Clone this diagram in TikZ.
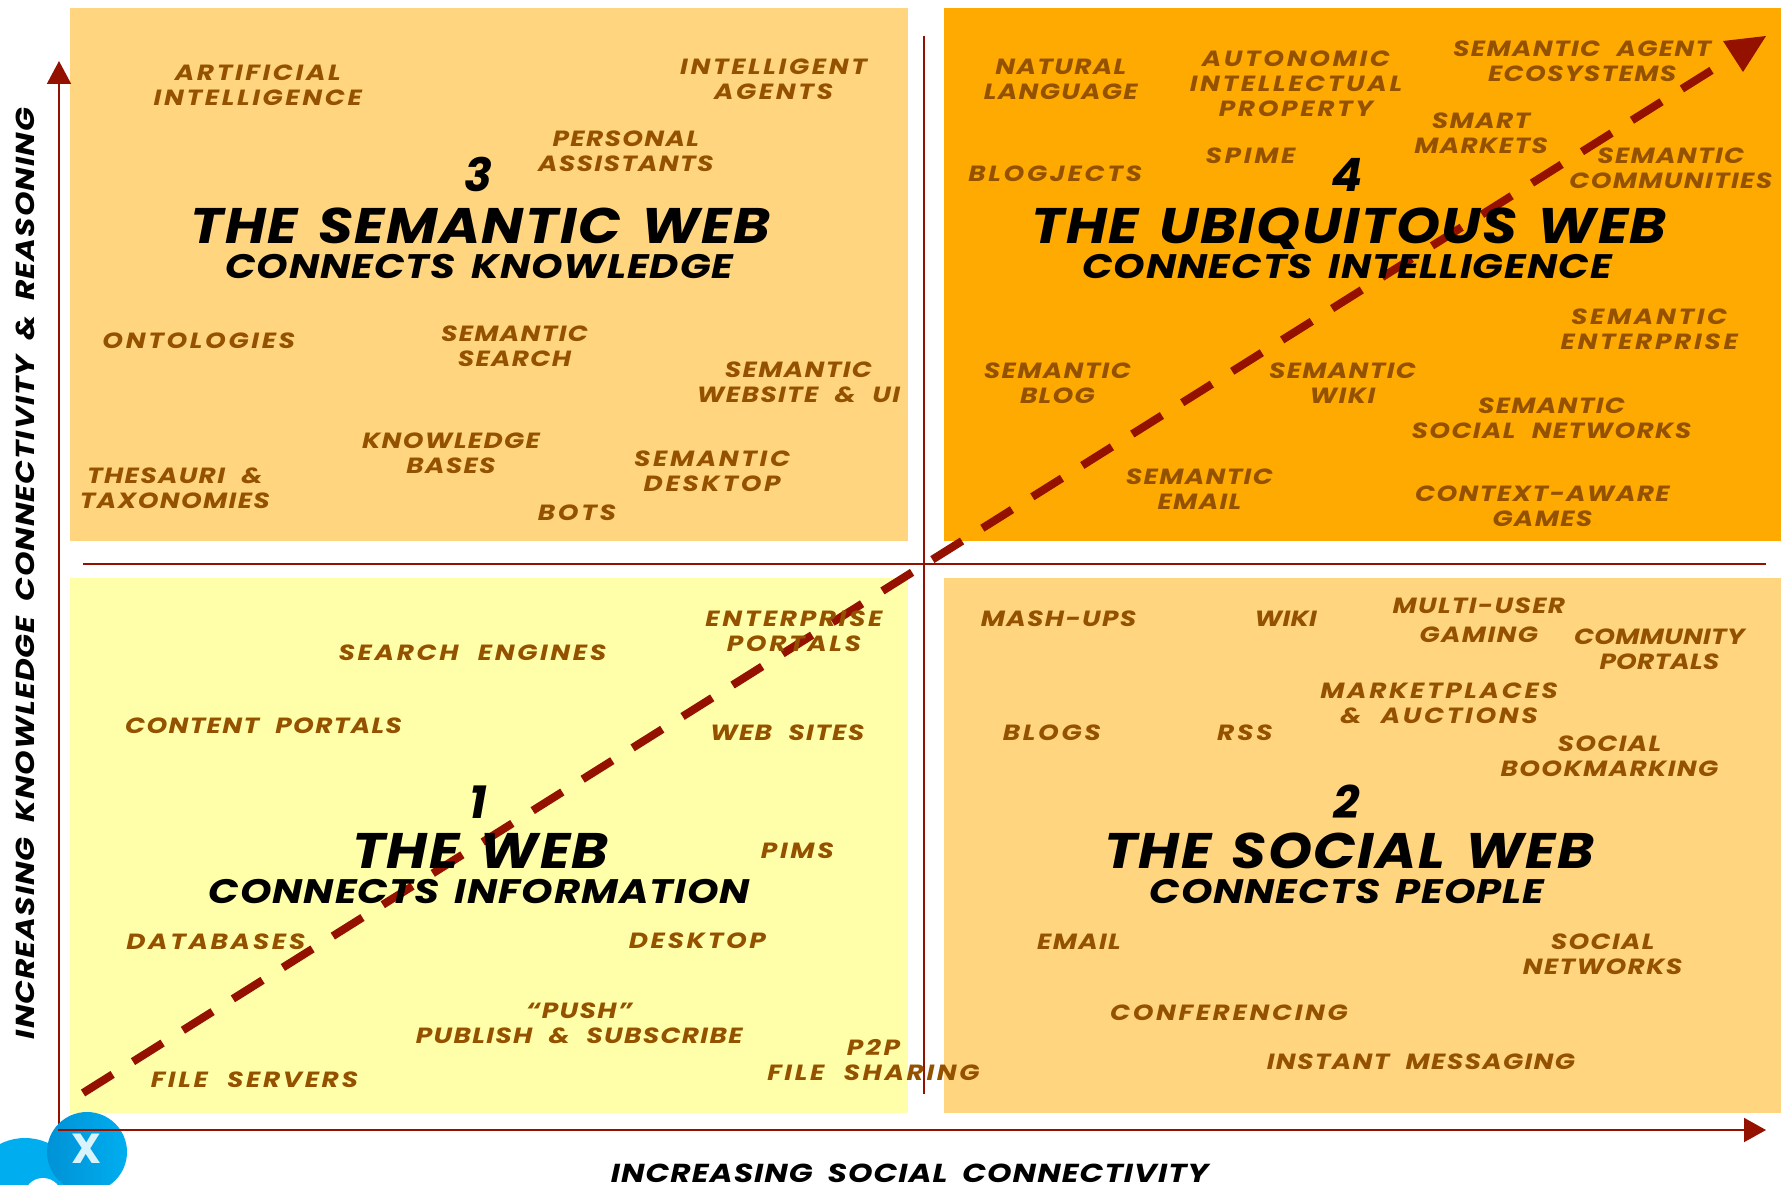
\documentclass[tikz,border=0pt]{standalone}
\usepackage{fontspec}
\setmainfont{Poppins}
\newfontfamily\labfont{Poppins}[FakeStretch=1.2,LetterSpace=6,WordSpace=2.2]
\newfontfamily\labwidefont{Poppins}[FakeStretch=1.2,LetterSpace=12,WordSpace=2.2]
\newfontfamily\labnarrowfont{Poppins}[FakeStretch=1.2,LetterSpace=1,WordSpace=2.2]
\newfontfamily\ttlfont{Poppins}[FakeStretch=1.12,LetterSpace=3,WordSpace=1.4]
\newfontfamily\subfont{Poppins}[FakeStretch=1.18,LetterSpace=3,WordSpace=1.5]
\newfontfamily\axfont{Poppins}[FakeStretch=1.2,LetterSpace=4,WordSpace=1.8]
\usetikzlibrary{arrows.meta}
\definecolor{lineRed}{HTML}{941100}
\definecolor{qLight}{HTML}{FFD580}
\definecolor{qOrange}{HTML}{FFAA00}
\definecolor{qYellow}{HTML}{FFFFAA}
\definecolor{txt}{HTML}{945200}
\definecolor{logoBlue}{HTML}{00AEEF}
\definecolor{logoDark}{HTML}{0092D6}
\tikzset{
  axisline/.style={draw=lineRed,line width=2pt},
  lab/.style={text=txt,font=\labfont\fontsize{22}{25}\selectfont\bfseries\itshape,align=center,inner sep=0pt},
  labw/.style={lab,font=\labwidefont\fontsize{22}{25}\selectfont\bfseries\itshape},
  labn/.style={lab,font=\labnarrowfont\fontsize{22}{25}\selectfont\bfseries\itshape},
  num/.style={text=black,font=\fontsize{46}{46}\selectfont\bfseries\itshape,inner sep=0pt},
  ttl/.style={text=black,font=\ttlfont\fontsize{50}{50}\selectfont\bfseries\itshape,inner sep=0pt,text height=35pt,text depth=0pt},
  sub/.style={text=black,font=\subfont\fontsize{34}{34}\selectfont\bfseries\itshape,inner sep=0pt},
  axlab/.style={text=black,font=\axfont\fontsize{26}{26}\selectfont\bfseries\itshape,inner sep=0pt}
}
\begin{document}
\begin{tikzpicture}[x=1pt,y=-1pt]
\useasboundingbox (0,0) rectangle (1781,1185);
\fill[white] (0,0) rectangle (1781,1185);
\fill[qLight] (70,8) rectangle (908,541);
\fill[qOrange] (944,8) rectangle (1781,541);
\fill[qYellow] (70,578) rectangle (908,1113);
\fill[qLight] (944,578) rectangle (1781,1113);
\coordinate (vt) at (924,36); \coordinate (vb) at (924,1094);
\coordinate (hl) at (83,564); \coordinate (hr) at (1766,564);
\coordinate (yb) at (59,1130); \coordinate (yt) at (59,61);
\coordinate (xl) at (58,1130); \coordinate (xr) at (1766,1130);
\coordinate (ds) at (83,1093); \coordinate (de) at (1712,70);
\draw[axisline] (vt) -- (vb);
\draw[axisline] (hl) -- (hr);
\draw[axisline,-{Triangle[length=23pt,width=24pt]}] (yb) -- (yt);
% logo
\begin{scope}
\clip (0,0) rectangle (1781,1185);
\fill[logoBlue] (25,1193) circle (55);
\fill[white] (43,1197) circle (19);
\shade[left color=logoDark,right color=logoBlue] (87,1152) circle (40);
\end{scope}
\node[text=white!85!logoBlue,font=\fontsize{42}{42}\selectfont\bfseries,inner sep=0pt] (logox) at (87,1149) {X};
\draw[axisline,-{Triangle[length=22pt,width=24pt]}] (xl) -- (xr);
\draw[lineRed,line width=8pt,dash pattern=on 35pt off 24pt] (ds) -- (de);
\fill[lineRed] (1723,41) -- (1766,36) -- (1743,72) -- cycle;
\begin{scope}[x=1.1358pt,y=-1.1358pt]
% Q3
\node[labw] (a1) at (227,75) {ARTIFICIAL\\INTELLIGENCE};
\node[labw] (a2) at (681,70) {INTELLIGENT\\AGENTS};
\node[lab] (a3) at (551,133) {PERSONAL\\ASSISTANTS};
\node[labw] (a4) at (175,300) {ONTOLOGIES};
\node[lab] (a5) at (453,305) {SEMANTIC\\SEARCH};
\node[lab] (a6) at (703,337) {SEMANTIC\\WEBSITE \& UI};
\node[lab] (a7) at (397,399) {KNOWLEDGE\\BASES};
\node[lab] (a8) at (154,430) {THESAURI \&\\TAXONOMIES};
\node[labw] (a9) at (627,415) {SEMANTIC\\DESKTOP};
\node[labw] (a10) at (508,451) {BOTS};
\node[num] (n3) at (421,154) {3};
\node[ttl] (t3) at (423,199) {THE SEMANTIC WEB};
\node[sub] (s3) at (422,235) {CONNECTS KNOWLEDGE};
% Q4
\node[lab] (b1) at (934,70) {NATURAL\\LANGUAGE};
\node[labw] (b2) at (1141,74) {AUTONOMIC\\INTELLECTUAL\\PROPERTY};
\node[lab] (b3) at (1393,54) {SEMANTIC AGENT\\ECOSYSTEMS};
\node[lab] (b4) at (1304,117) {SMART\\MARKETS};
\node[lab] (b5) at (1471,148) {SEMANTIC\\COMMUNITIES};
\node[labw] (b6) at (929,153) {BLOGJECTS};
\node[labw] (b7) at (1101,137) {SPIME};
\node[labw] (b8) at (1452,290) {SEMANTIC\\ENTERPRISE};
\node[lab] (b9) at (931,337) {SEMANTIC\\BLOG};
\node[lab] (b10) at (1182,337) {SEMANTIC\\WIKI};
\node[lab] (b11) at (1366,368) {SEMANTIC\\SOCIAL NETWORKS};
\node[lab] (b12) at (1056,431) {SEMANTIC\\EMAIL};
\node[lab] (b13) at (1358,446) {CONTEXT-AWARE\\GAMES};
\node[num] (n4) at (1186,154) {4};
\node[ttl] (t4) at (1188,199) {THE UBIQUITOUS WEB};
\node[sub] (s4) at (1186,235) {CONNECTS INTELLIGENCE};
% Q1
\node[labw] (c1) at (699,556) {ENTERPRISE\\PORTALS};
\node[labw] (c2) at (416,575) {SEARCH ENGINES};
\node[lab] (c3) at (232,639) {CONTENT PORTALS};
\node[lab] (c4) at (693,645) {WEB SITES};
\node[labw] (c5) at (702,749) {PIMS};
\node[labw] (c6) at (190,829) {DATABASES};
\node[labw] (c7) at (614,828) {DESKTOP};
\node[lab] (c8) at (510,901) {“PUSH”\\PUBLISH \& SUBSCRIBE};
\node[labw] (c9) at (769,933) {P2P\\FILE SHARING};
\node[labw] (c10) at (224,951) {FILE SERVERS};
\node[num] (n1) at (421,706) {1};
\node[ttl] (t1) at (423,749) {THE WEB};
\node[sub] (s1) at (422,785) {CONNECTS INFORMATION};
% Q2
\node[lab] (d1) at (932,545) {MASH-UPS};
\node[labn] (d2) at (1132,545) {WIKI};
\node[lab] (d3) at (1302,546) {MULTI-USER\\[4pt]GAMING};
\node[labn] (d4) at (1461,572) {COMMUNITY\\PORTALS};
\node[labw] (d5) at (1267,619) {MARKETPLACES\\\& AUCTIONS};
\node[labw] (d6) at (926,645) {BLOGS};
\node[labw] (d7) at (1096,645) {RSS};
\node[lab] (d8) at (1417,666) {SOCIAL\\BOOKMARKING};
\node[lab] (d9) at (950,829) {EMAIL};
\node[lab] (d10) at (1411,840) {SOCIAL\\NETWORKS};
\node[labw] (d11) at (1082,892) {CONFERENCING};
\node[lab] (d12) at (1251,935) {INSTANT MESSAGING};
\node[num] (n2) at (1186,706) {2};
\node[ttl] (t2) at (1188,749) {THE SOCIAL WEB};
\node[sub] (s2) at (1186,785) {CONNECTS PEOPLE};
% axes
\node[axlab] (ax) at (801,1033) {INCREASING SOCIAL CONNECTIVITY};
\node[axlab,rotate=90] (ay) at (22,505) {INCREASING KNOWLEDGE CONNECTIVITY \& REASONING};
\end{scope}
\end{tikzpicture}
\end{document}
